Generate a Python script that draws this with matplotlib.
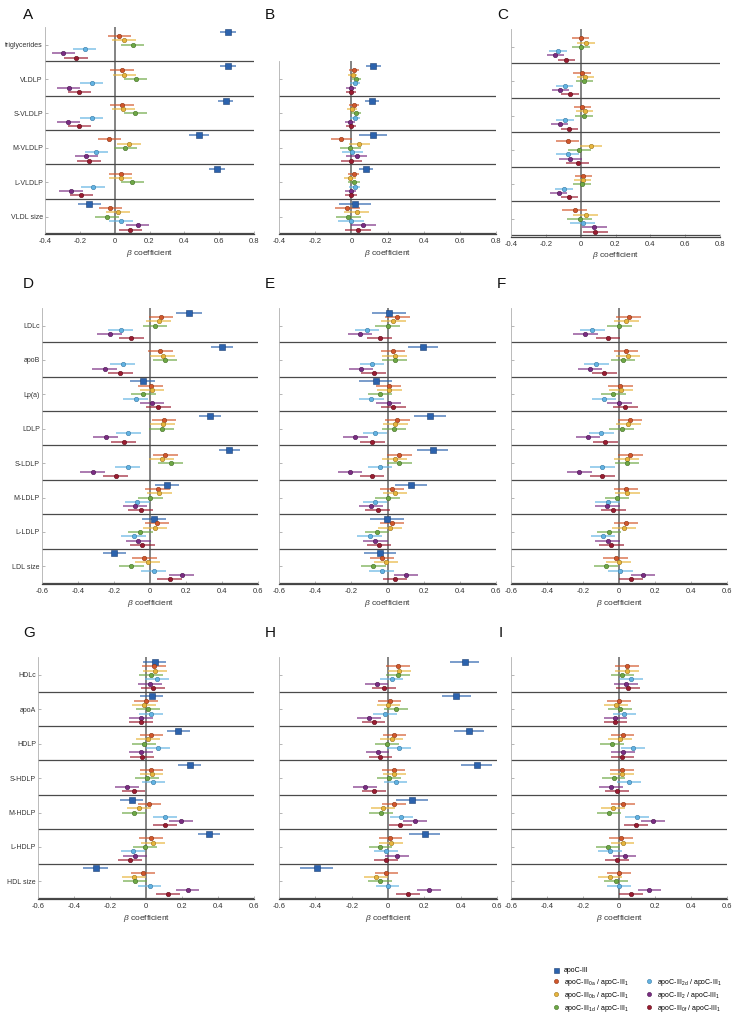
import numpy as np
import matplotlib
matplotlib.use('Agg')
import matplotlib.pyplot as plt
from matplotlib.lines import Line2D

plt.rcParams['font.family'] = ['Liberation Sans', 'DejaVu Sans']
plt.rcParams['mathtext.fontset'] = 'custom'
plt.rcParams['mathtext.rm'] = 'Liberation Sans'
plt.rcParams['mathtext.it'] = 'Liberation Sans:italic'

colors = ['#2b62ad', '#d2572b', '#e8b53c', '#6ea845', '#62b3e3', '#7b2c83', '#9b1b30']
edges = ['#1c3f73', '#8a3517', '#9a7520', '#44702a', '#3a7aa3', '#4a1a50', '#5e0f1c']
labels = ['apoC-III',
          'apoC-III$_{\\mathrm{0a}}$ / apoC-III$_{\\mathrm{1}}$',
          'apoC-III$_{\\mathrm{0b}}$ / apoC-III$_{\\mathrm{1}}$',
          'apoC-III$_{\\mathrm{1d}}$ / apoC-III$_{\\mathrm{1}}$',
          'apoC-III$_{\\mathrm{2d}}$ / apoC-III$_{\\mathrm{1}}$',
          'apoC-III$_{\\mathrm{2}}$ / apoC-III$_{\\mathrm{1}}$',
          'apoC-III$_{\\mathrm{0f}}$ / apoC-III$_{\\mathrm{1}}$']

vldl_groups = ['triglycerides', 'VLDLP', 'S-VLDLP', 'M-VLDLP', 'L-VLDLP', 'VLDL size']
ldl_groups = ['LDLc', 'apoB', 'Lp(a)', 'LDLP', 'S-LDLP', 'M-LDLP', 'L-LDLP', 'LDL size']
hdl_groups = ['HDLc', 'apoA', 'HDLP', 'S-HDLP', 'M-HDLP', 'L-HDLP', 'HDL size']

# rows: apoC-III, 0a, 0b, 1d, 2d, 2, 0f ; columns: groups
A_beta = [[0.649, 0.649, 0.637, 0.486, 0.589, -0.145],
          [0.027, 0.042, 0.042, -0.031, 0.034, -0.025],
          [0.054, 0.056, 0.050, 0.082, 0.034, 0.019],
          [0.103, 0.120, 0.119, 0.061, 0.101, -0.044],
          [-0.172, -0.132, -0.132, -0.105, -0.124, 0.036],
          [-0.295, -0.264, -0.266, -0.163, -0.251, 0.132],
          [-0.222, -0.203, -0.203, -0.147, -0.191, 0.090]]
A_ci_main = [0.045, 0.045, 0.045, 0.057, 0.045, 0.067]
A_ci = [0.067, 0.067, 0.067, 0.067, 0.067, 0.067]

B_beta = [[0.122, 0.115, 0.120, 0.081, 0.020],
          [0.013, 0.015, -0.055, 0.013, -0.022],
          [0.007, 0.004, 0.044, -0.007, 0.030],
          [0.028, 0.026, -0.006, 0.015, -0.017],
          [0.020, 0.020, 0.006, 0.018, -0.002],
          [0.000, -0.007, 0.030, -0.004, 0.067],
          [0.000, -0.004, 0.000, -0.002, 0.037]]
B_ci_main = [0.040, 0.040, 0.075, 0.040, 0.090]
B_ci = [0.027, 0.028, 0.058, 0.031, 0.070]

C_beta = [None,
          [0.000, 0.008, 0.010, -0.075, 0.015, -0.033],
          [0.030, 0.027, 0.023, 0.059, 0.011, 0.029],
          [0.002, 0.021, 0.019, -0.008, 0.008, -0.006],
          [-0.130, -0.092, -0.090, -0.075, -0.096, 0.013],
          [-0.145, -0.117, -0.120, -0.059, -0.126, 0.078],
          [-0.082, -0.061, -0.065, -0.017, -0.065, 0.084]]
C_ci = [0.050, 0.050, 0.050, 0.065, 0.050, 0.072]

D_beta = [[0.216, 0.399, -0.041, 0.332, 0.441, 0.096, 0.022, -0.198],
          [0.061, 0.057, 0.004, 0.078, 0.085, 0.042, 0.039, -0.031],
          [0.048, 0.070, 0.011, 0.070, 0.066, 0.052, 0.028, -0.013],
          [0.028, 0.083, -0.037, 0.065, 0.114, 0.002, -0.055, -0.105],
          [-0.162, -0.151, -0.079, -0.120, -0.124, -0.070, -0.090, 0.020],
          [-0.223, -0.251, 0.011, -0.246, -0.319, -0.083, -0.065, 0.175],
          [-0.105, -0.164, 0.046, -0.146, -0.190, -0.052, -0.042, 0.109]]
D_ci_main = [0.073, 0.060, 0.068, 0.062, 0.060, 0.067, 0.068, 0.064]
D_ci = [0.069] * 8

E_beta = [[0.007, 0.199, -0.066, 0.233, 0.249, 0.131, -0.004, -0.042],
          [0.054, 0.030, 0.007, 0.054, 0.066, 0.026, 0.024, -0.030],
          [0.033, 0.039, 0.011, 0.044, 0.039, 0.041, 0.013, -0.009],
          [0.000, 0.039, -0.042, 0.037, 0.066, 0.000, -0.057, -0.078],
          [-0.114, -0.085, -0.090, -0.070, -0.042, -0.070, -0.098, -0.033],
          [-0.151, -0.146, 0.007, -0.177, -0.207, -0.092, -0.068, 0.102],
          [-0.044, -0.076, 0.033, -0.083, -0.085, -0.055, -0.048, 0.041]]
E_ci_main = [0.095, 0.083, 0.090, 0.088, 0.085, 0.090, 0.095, 0.090]
E_ci = [0.068] * 8

F_beta = [None,
          [0.054, 0.039, 0.006, 0.061, 0.063, 0.039, 0.039, -0.019],
          [0.041, 0.050, 0.011, 0.052, 0.043, 0.046, 0.028, -0.002],
          [0.002, 0.022, -0.031, 0.015, 0.044, -0.011, -0.056, -0.072],
          [-0.148, -0.126, -0.083, -0.098, -0.094, -0.063, -0.089, 0.007],
          [-0.187, -0.161, 0.002, -0.172, -0.220, -0.065, -0.063, 0.133],
          [-0.061, -0.081, 0.035, -0.076, -0.094, -0.031, -0.043, 0.067]]
F_ci = [0.069] * 8

G_beta = [[0.048, 0.031, 0.180, 0.243, -0.080, 0.350, -0.280],
          [0.046, 0.000, 0.030, 0.030, 0.019, 0.028, -0.015],
          [0.048, -0.013, 0.013, 0.031, -0.041, 0.039, -0.067],
          [0.028, 0.009, -0.013, 0.007, -0.065, -0.007, -0.061],
          [0.059, 0.028, 0.065, 0.041, 0.104, -0.074, 0.020],
          [0.022, -0.028, -0.026, -0.107, 0.196, -0.063, 0.231],
          [0.037, -0.026, -0.024, -0.069, 0.104, -0.089, 0.124]]
G_ci_main = [0.063, 0.063, 0.063, 0.063, 0.064, 0.063, 0.068]
G_ci = [0.066] * 7

H_beta = [[0.423, 0.375, 0.447, 0.489, 0.131, 0.201, -0.393],
          [0.054, 0.009, 0.035, 0.031, 0.033, 0.013, -0.009],
          [0.063, 0.002, 0.020, 0.035, -0.028, 0.017, -0.065],
          [0.054, 0.044, -0.006, 0.007, -0.039, -0.042, -0.044],
          [0.020, -0.015, 0.059, 0.042, 0.074, -0.011, -0.002],
          [-0.063, -0.105, -0.057, -0.126, 0.150, 0.048, 0.225],
          [-0.022, -0.079, -0.042, -0.076, 0.068, -0.011, 0.111]]
H_ci_main = [0.080, 0.080, 0.083, 0.085, 0.088, 0.085, 0.092]
H_ci = [0.065] * 7

I_beta = [None,
          [0.043, 0.000, 0.020, 0.017, 0.022, 0.009, 0.000],
          [0.046, -0.017, 0.004, 0.017, -0.035, 0.020, -0.052],
          [0.019, 0.007, -0.041, -0.030, -0.054, -0.063, -0.017],
          [0.065, 0.030, 0.078, 0.056, 0.100, -0.052, 0.000],
          [0.037, -0.020, 0.022, -0.046, 0.189, 0.031, 0.169],
          [0.050, -0.020, 0.019, -0.013, 0.094, -0.013, 0.067]]
I_ci = [0.066] * 7

W, H = 734, 1015
SLOT = 4.3


def place(fig, left, right, bottom, n):
    h = (8 * n + 0.25) * SLOT
    return fig.add_axes([left / W, 1 - bottom / H, (right - left) / W, h / H])


def draw_panel(ax, groups, beta, ci_main, ci, xlim, show_labels):
    n = len(groups)
    for s in range(7):
        if beta[s] is None:
            continue
        for g in range(n):
            x = beta[s][g]
            y = 8 * g + s
            hw = ci_main[g] if s == 0 else ci[g]
            ax.hlines(y, x - hw, x + hw, color=colors[s], lw=1.1, alpha=0.8, zorder=3)
            ax.plot(x, y, marker='s' if s == 0 else 'o', ms=3.8 if s == 0 else 3.2,
                    mfc=colors[s], mec=edges[s], mew=0.4, zorder=4)
    for g in range(n):
        ax.axhline(8 * g + 6.85, color='#4a4a4a', lw=0.9, zorder=2)
    ax.axvline(0, color='#7a7a7a', lw=1.3, zorder=1)
    ax.set_xlim(xlim)
    ax.set_ylim(8 * n - 0.9, -1.15)
    ax.set_yticks([8 * g + 3 for g in range(n)])
    if show_labels:
        ax.set_yticklabels(groups, fontsize=5.0, color='#333333')
    else:
        ax.set_yticklabels([])
    ticks = np.round(np.arange(xlim[0], xlim[1] + 0.01, 0.2), 1)
    ax.set_xticks(ticks)
    ax.set_xticklabels(['0' if t == 0 else '%g' % t for t in ticks], fontsize=5.5, color='#333333')
    ax.tick_params(axis='both', direction='in', length=2.5, width=0.5, color='#999999', pad=3)
    ax.tick_params(axis='y', pad=1.5)
    for side in ['top', 'right']:
        ax.spines[side].set_visible(False)
    ax.spines['left'].set_color('#b0b0b0')
    ax.spines['left'].set_linewidth(0.6)
    ax.spines['bottom'].set_color('#444444')
    ax.spines['bottom'].set_linewidth(0.9)
    ax.set_xlabel('$\\beta$ coefficient', fontsize=6, color='#333333', labelpad=2)


fig = plt.figure(figsize=(W / 100, H / 100), dpi=100)

axA = place(fig, 45, 254, 234.3, 6)
draw_panel(axA, vldl_groups, A_beta, A_ci_main, A_ci, (-0.4, 0.8), True)
axB = place(fig, 279, 496, 234.3, 5)
draw_panel(axB, vldl_groups[1:], B_beta, B_ci_main, B_ci, (-0.4, 0.8), False)
axC = place(fig, 511, 720, 236.5, 6)
draw_panel(axC, vldl_groups, C_beta, None, C_ci, (-0.4, 0.8), False)

axD = place(fig, 42, 258, 584, 8)
draw_panel(axD, ldl_groups, D_beta, D_ci_main, D_ci, (-0.6, 0.6), True)
axE = place(fig, 279, 496, 584, 8)
draw_panel(axE, ldl_groups, E_beta, E_ci_main, E_ci, (-0.6, 0.6), False)
axF = place(fig, 511, 727, 584, 8)
draw_panel(axF, ldl_groups, F_beta, None, F_ci, (-0.6, 0.6), False)

axG = place(fig, 38, 254, 899, 7)
draw_panel(axG, hdl_groups, G_beta, G_ci_main, G_ci, (-0.6, 0.6), True)
axH = place(fig, 279, 497, 899, 7)
draw_panel(axH, hdl_groups, H_beta, H_ci_main, H_ci, (-0.6, 0.6), False)
axI = place(fig, 511, 727, 899, 7)
draw_panel(axI, hdl_groups, I_beta, None, I_ci, (-0.6, 0.6), False)

# panel letters
for letter, x, y in [('A', 23, 15), ('B', 265, 15), ('C', 497, 15),
                     ('D', 23, 284), ('E', 265, 284), ('F', 497, 284),
                     ('G', 23, 633), ('H', 265, 633), ('I', 499, 633)]:
    fig.text(x / W, 1 - y / H, letter, fontsize=11, va='center', ha='left', color='#111111')

# legend
handles = []
for s in range(7):
    handles.append(Line2D([], [], linestyle='none', marker='s' if s == 0 else 'o',
                          ms=3.6 if s == 0 else 3.0, mfc=colors[s], mec=edges[s], mew=0.4))
blank = Line2D([], [], linestyle='none')
order = [0, 1, 2, 3, None, 4, 5, 6]
leg_handles = [blank if o is None else handles[o] for o in order]
leg_labels = ['' if o is None else labels[o] for o in order]
fig.legend(leg_handles, leg_labels, loc='upper left', bbox_to_anchor=(548 / W, 1 - 964 / H),
           ncol=2, frameon=False, fontsize=5.0, handlelength=1.2, handletextpad=0.6,
           columnspacing=2.2, labelspacing=0.3, borderpad=0)

fig.savefig('out.png', dpi=100)
